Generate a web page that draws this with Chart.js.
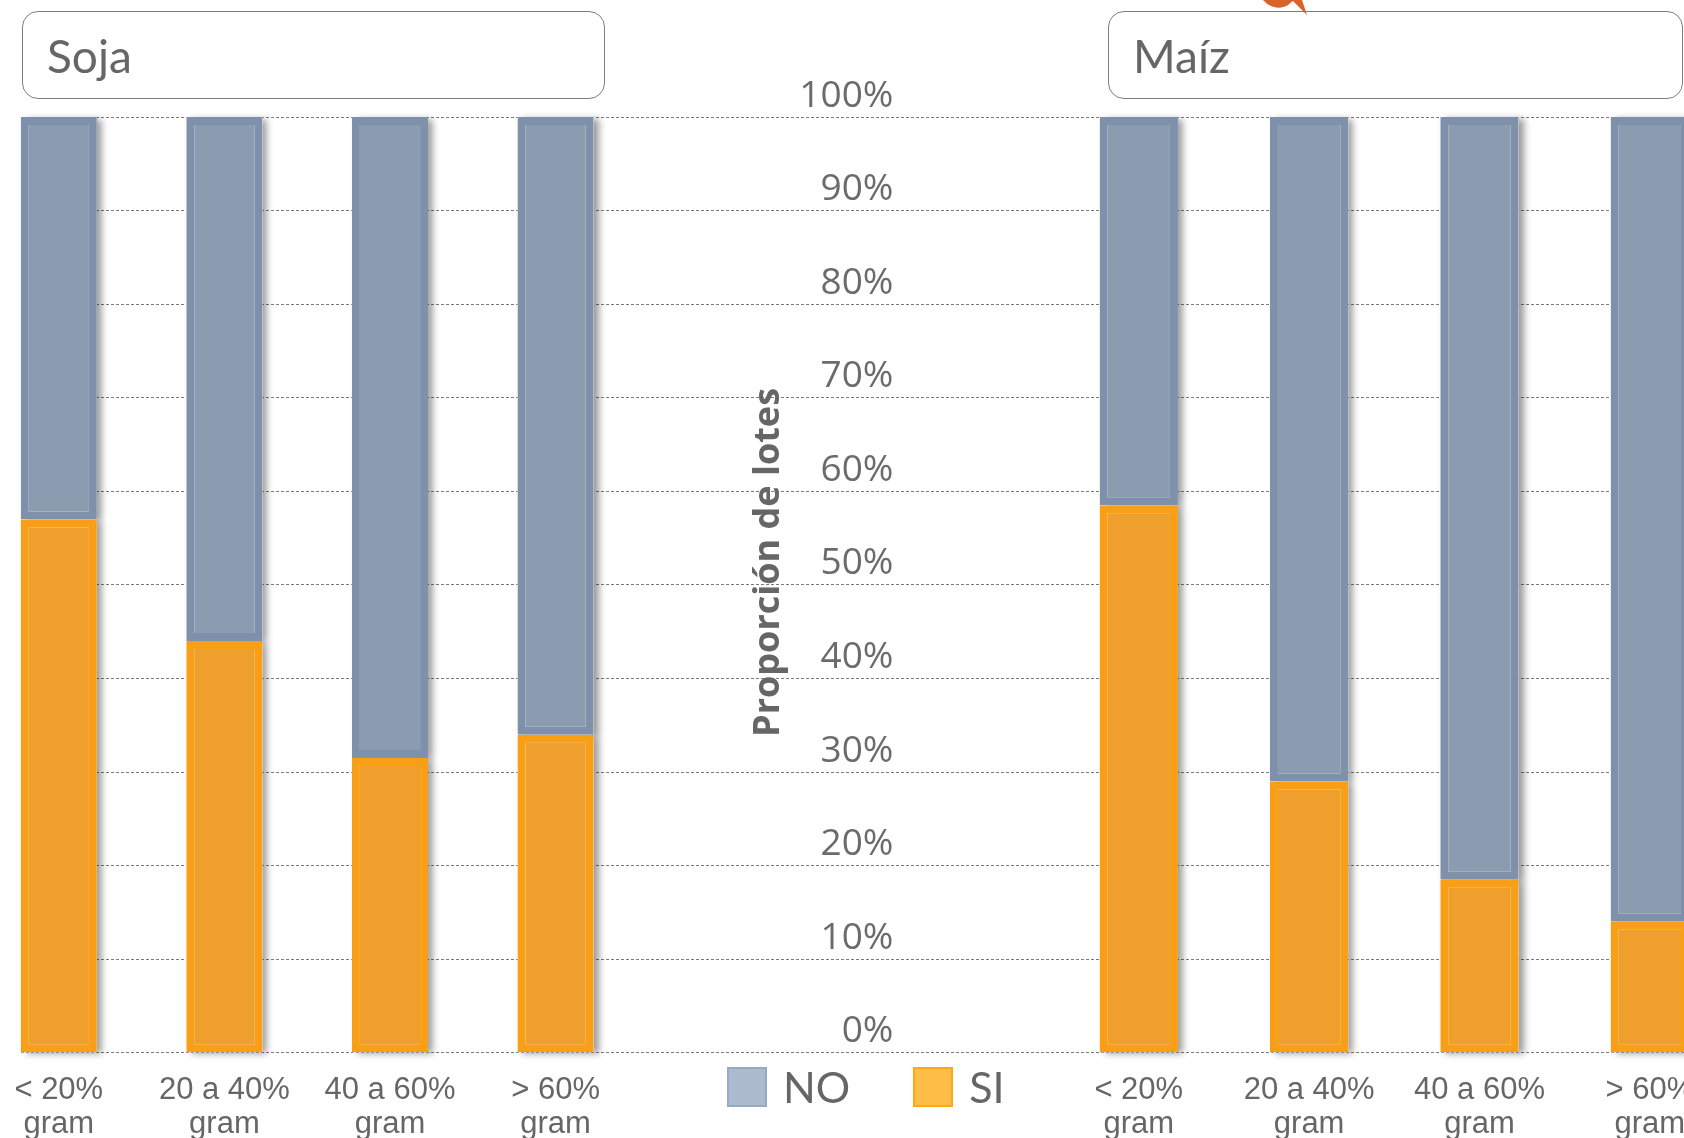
<!DOCTYPE html>
<html lang="es">
<head>
<meta charset="utf-8">
<title>Proporción de lotes - Soja y Maíz</title>
<script src="https://cdn.jsdelivr.net/npm/chart.js@4.4.1/dist/chart.umd.min.js"></script>
<style>
  html, body { margin: 0; padding: 0; background: #fff; }
  body { position: relative; width: 1684px; height: 1138px; overflow: hidden; }
  #chart { position: absolute; left: -24px; top: 0; }
  .panel-title {
    position: absolute; top: 11px; height: 88px; box-sizing: border-box;
    border: 1.5px solid #7e7e7e; border-radius: 16px;
    padding-left: 24px; font-family: Lato, "Open Sans", sans-serif;
    font-size: 46px; line-height: 87px; color: #666;
  }
  #soja { left: 22px; width: 583px; }
  #maiz { left: 1108px; width: 575px; }
  #leftMask { position: absolute; left: 0; top: 104px; width: 19px; height: 952px; background: #fff; }
  #legend { position: absolute; left: 727px; top: 1067px; display: flex; font-family: Lato, "Open Sans", sans-serif; }
  .item { display: flex; align-items: flex-start; height: 40px; margin-right: 63px; }
  .swatch { width: 40px; height: 40px; box-sizing: border-box; border: 2px solid; margin-right: 16px; }
  .item span { font-size: 43px; line-height: 40px; color: #666; }
  #deco { position: absolute; left: 0; top: 0; }
</style>
</head>
<body>
<svg id="deco" width="1684" height="30">
  <path d="M1263 0 C1270 8 1280 10 1288 5 L1294 0 Z M1292 0 L1307 15 L1302 0 Z" fill="#d8622a"/>
</svg>
<canvas id="chart" width="1759" height="1163"></canvas>
<div id="leftMask"></div>
<div class="panel-title" id="soja">Soja</div>
<div class="panel-title" id="maiz">Maíz</div>
<div id="legend"></div>
<script>
// categories (same for both crops)
const CATEGORIES = [['< 20%', 'gram'], ['20 a 40%', 'gram'], ['40 a 60%', 'gram'], ['> 60%', 'gram']];

// share of lots (%)
const SOJA_SI = [57, 44, 31.5, 34];
const SOJA_NO = [43, 56, 68.5, 66];
const MAIZ_SI = [58.5, 29, 18.5, 14];
const MAIZ_NO = [41.5, 71, 81.5, 86];

const SERIES = ['NO', 'SI'];
const Y_TITLE = 'Proporción de lotes';

const colors = {
    NO: { fill: '#8c9cb0', border: '#7f91aa', legendFill: '#adbbce', legendBorder: '#97aac3' },
    SI: { fill: '#efa02c', border: '#f99f17', legendFill: '#ffbe48', legendBorder: '#ffa716' }
};

function barSet(label, data, axis) {
    return {
        label: label,
        data: data,
        xAxisID: axis,
        yAxisID: 'y',
        grouped: false,
        backgroundColor: colors[label].fill,
        borderColor: colors[label].border,
        borderWidth: 8,
        borderSkipped: false,
        barPercentage: 0.46,
        categoryPercentage: 1
    };
}

// soft shadow to the right of every bar segment
const barShadow = {
    id: 'barShadow',
    beforeDatasetsDraw(chart) {
        const ctx = chart.ctx;
        ctx.save();
        ctx.shadowColor = 'rgba(0, 0, 0, 0.4)';
        ctx.shadowBlur = 7;
        ctx.shadowOffsetX = 5;
        ctx.shadowOffsetY = 2;
        ctx.fillStyle = '#fff';
        chart.getSortedVisibleDatasetMetas().forEach(meta => {
            meta.data.forEach(bar => {
                const p = bar.getProps(['x', 'y', 'base', 'width'], true);
                ctx.fillRect(p.x - p.width / 2, Math.min(p.y, p.base), p.width, Math.abs(p.base - p.y));
            });
        });
        ctx.restore();
    }
};

// rotated axis title in the gap between both panels
const axisTitle = {
    id: 'axisTitle',
    afterDraw(chart, args, opts) {
        const { ctx, scales } = chart;
        ctx.save();
        ctx.translate(scales.xSoja.getPixelForValue(opts.xValue), scales.y.getPixelForValue(opts.yValue));
        ctx.rotate(-Math.PI / 2);
        ctx.font = 'bold 36px "Open Sans"';
        ctx.fillStyle = '#666';
        ctx.textAlign = 'center';
        ctx.textBaseline = 'middle';
        ctx.fillText(opts.text, 0, 0);
        ctx.restore();
    }
};

// keep the category axes from pushing the plot area inwards
function noSidePadding(scale) {
    scale.paddingLeft = 0;
    scale.paddingRight = 0;
}

const xTicks = {
    font: { family: '"Liberation Sans", Arial, sans-serif', size: 31, lineHeight: 1.1 },
    color: '#666',
    padding: 21,
    maxRotation: 0,
    autoSkip: false
};

const chart = new Chart(document.getElementById('chart'), {
    type: 'bar',
    data: {
        datasets: [
            barSet('SI', SOJA_SI, 'xSoja'),
            barSet('NO', SOJA_NO, 'xSoja'),
            barSet('SI', MAIZ_SI, 'xMaiz'),
            barSet('NO', MAIZ_NO, 'xMaiz')
        ]
    },
    options: {
        responsive: false,
        animation: false,
        layout: { padding: { top: 117, bottom: 0, left: 0, right: 0 } },
        plugins: {
            legend: { display: false },
            tooltip: { enabled: false },
            axisTitle: { text: Y_TITLE, xValue: 4.29, yValue: 52.4 }
        },
        scales: {
            xSoja: {
                axis: 'x', type: 'category', labels: CATEGORIES, position: 'bottom',
                stack: 'panels', stackWeight: 662, stacked: true, offset: true,
                grid: { display: false, drawTicks: false },
                border: { display: false },
                ticks: xTicks,
                afterFit: noSidePadding
            },
            xGap: {
                axis: 'x', type: 'linear', position: 'bottom', min: 0, max: 1,
                stack: 'panels', stackWeight: 415, display: false
            },
            xMaiz: {
                axis: 'x', type: 'category', labels: CATEGORIES, position: 'bottom',
                stack: 'panels', stackWeight: 681, stacked: true, offset: true,
                grid: { display: false, drawTicks: false },
                border: { display: false },
                ticks: xTicks,
                afterFit: noSidePadding
            },
            y: {
                type: 'linear', min: 0, max: 100, stacked: true,
                position: { xSoja: 5.04 },
                grid: { color: '#7a7a7a', lineWidth: 1, drawTicks: false },
                border: { display: false, dash: [3, 2] },
                ticks: {
                    stepSize: 10,
                    padding: 0,
                    labelOffset: -21,
                    autoSkip: false,
                    color: '#6b6b6b',
                    font: { family: '"Open Sans", sans-serif', size: 37 },
                    callback: v => v + '%'
                }
            }
        }
    },
    plugins: [barShadow, axisTitle]
});

// legend: one entry per series, shared by both panels
const legendEl = document.getElementById('legend');
SERIES.forEach(name => {
    const item = document.createElement('div');
    item.className = 'item';
    const sw = document.createElement('div');
    sw.className = 'swatch';
    sw.style.background = colors[name].legendFill;
    sw.style.borderColor = colors[name].legendBorder;
    const txt = document.createElement('span');
    txt.textContent = name;
    item.appendChild(sw);
    item.appendChild(txt);
    legendEl.appendChild(item);
});
</script>
</body>
</html>
